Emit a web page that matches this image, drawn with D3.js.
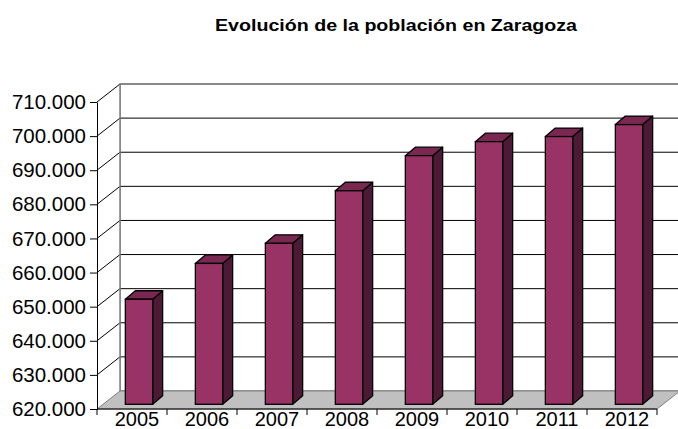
<!DOCTYPE html>
<html>
<head>
<meta charset="utf-8">
<script src="https://cdn.jsdelivr.net/npm/d3@7"></script>
<style>
  body { margin: 0; background: #fff; }
  text { font-family: "Liberation Sans", Arial, sans-serif; }
</style>
</head>
<body>
<div id="chart"></div>
<script>
// data
const years = ["2005", "2006", "2007", "2008", "2009", "2010", "2011", "2012"];
const population = [650800, 661300, 667200, 682600, 692900, 697000, 698500, 702000];
const yTicks = [620000, 630000, 640000, 650000, 660000, 670000, 680000, 690000, 700000, 710000];
const chartTitle = "Evolución de la población en Zaragoza";

const width = 678, height = 429;
// front plane of the plot
const frontLeft = 97, frontRight = 657, frontBottom = 409, frontTop = 102;
// depth of the 3d box
const depthX = 23, depthY = 18;
// bar placement inside the depth
const barFrontX = 7, barFrontY = 4.7, barDepthX = 10, barDepthY = 8.5;

const es = d3.formatLocale({decimal: ",", thousands: ".", grouping: [3], currency: ["", " €"]});
const fmt = es.format(",d");

const svg = d3.select("#chart")
  .append("svg")
    .attr("width", width)
    .attr("height", height);

// title
svg.append("text")
  .attr("x", 396)
  .attr("y", 31)
  .attr("text-anchor", "middle")
  .attr("textLength", 362)
  .attr("lengthAdjust", "spacingAndGlyphs")
  .style("font-size", "17px")
  .style("font-weight", "bold")
  .text(chartTitle);

const x = d3.scaleBand()
  .domain(years)
  .range([frontLeft, frontRight])
  .padding(0);

const y = d3.scaleLinear()
  .domain([yTicks[0], yTicks[yTicks.length - 1]])
  .range([frontBottom, frontTop]);

const pts = arr => arr.map(p => p.join(",")).join(" ");

// back wall
svg.append("polygon")
  .attr("points", pts([
    [frontLeft + depthX, y(yTicks[yTicks.length - 1]) - depthY],
    [frontRight + depthX + 40, y(yTicks[yTicks.length - 1]) - depthY],
    [frontRight + depthX + 40, frontBottom - depthY],
    [frontLeft + depthX, frontBottom - depthY]
  ]))
  .attr("fill", "#fff")
  .attr("stroke", "#808080")
  .attr("stroke-width", 1.5);

// left wall
svg.append("polygon")
  .attr("points", pts([
    [frontLeft, frontTop], [frontLeft + depthX, frontTop - depthY],
    [frontLeft + depthX, frontBottom - depthY], [frontLeft, frontBottom]
  ]))
  .attr("fill", "#fff")
  .attr("stroke", "none");

// gridlines on back wall and left wall
const grid = yTicks.slice(1);
svg.selectAll(".grid-back")
  .data(grid)
  .join("line")
    .attr("class", "grid-back")
    .attr("x1", frontLeft + depthX)
    .attr("x2", width + 10)
    .attr("y1", d => y(d) - depthY)
    .attr("y2", d => y(d) - depthY)
    .attr("stroke", d => d === yTicks[yTicks.length - 1] ? "#808080" : "#000")
    .attr("stroke-width", d => d === yTicks[yTicks.length - 1] ? 1.5 : 1);

svg.selectAll(".grid-side")
  .data(grid)
  .join("line")
    .attr("class", "grid-side")
    .attr("x1", frontLeft)
    .attr("x2", frontLeft + depthX)
    .attr("y1", d => y(d))
    .attr("y2", d => y(d) - depthY)
    .attr("stroke", "#000")
    .attr("stroke-width", 1);

// back wall left edge
svg.append("line")
  .attr("x1", frontLeft + depthX).attr("x2", frontLeft + depthX)
  .attr("y1", frontTop - depthY).attr("y2", frontBottom - depthY)
  .attr("stroke", "#808080")
  .attr("stroke-width", 1.5);

// floor
svg.append("polygon")
  .attr("points", pts([
    [frontLeft, frontBottom], [frontRight, frontBottom],
    [frontRight + depthX, frontBottom - depthY], [frontLeft + depthX, frontBottom - depthY]
  ]))
  .attr("fill", "#c0c0c0")
  .attr("stroke", "#808080")
  .attr("stroke-width", 1);

// y axis
const yAxis = svg.append("g")
  .attr("transform", `translate(${frontLeft},0)`)
  .call(d3.axisLeft(y).tickValues(yTicks).tickFormat(fmt).tickSize(7).tickSizeOuter(0).tickPadding(4));
yAxis.select(".domain").attr("stroke", "#000");
yAxis.selectAll("text")
  .style("font-family", "'Liberation Sans', Arial, sans-serif")
  .style("font-size", "20.5px")
  .attr("fill", "#000");

// x axis line + ticks at category boundaries
svg.append("line")
  .attr("x1", frontLeft).attr("x2", frontRight)
  .attr("y1", frontBottom).attr("y2", frontBottom)
  .attr("stroke", "#000");

svg.selectAll(".xtick")
  .data(years.concat(["end"]))
  .join("line")
    .attr("class", "xtick")
    .attr("x1", d => d === "end" ? frontRight : x(d))
    .attr("x2", d => d === "end" ? frontRight : x(d))
    .attr("y1", frontBottom)
    .attr("y2", frontBottom + 6)
    .attr("stroke", "#000");

svg.selectAll(".xlabel")
  .data(years)
  .join("text")
    .attr("class", "xlabel")
    .attr("x", d => x(d) + x.bandwidth() / 2 + 5)
    .attr("y", 426)
    .attr("text-anchor", "middle")
    .style("font-size", "20px")
    .text(d => d);

// bars
const barW = x.bandwidth() * 0.39;
const data = years.map((yr, i) => ({year: yr, value: population[i]}));

const bars = svg.selectAll(".bar")
  .data(data)
  .join("g")
    .attr("class", "bar");

bars.each(function(d) {
  const g = d3.select(this);
  const x0 = x(d.year) + (x.bandwidth() - barW) / 2 + barFrontX;
  const x1 = x0 + barW;
  const yTop = y(d.value) - barFrontY;
  const yBot = y(yTicks[0]) - barFrontY;

  // side
  g.append("polygon")
    .attr("points", pts([[x1, yTop], [x1 + barDepthX, yTop - barDepthY],
      [x1 + barDepthX, yBot - barDepthY], [x1, yBot]]))
    .attr("fill", "#4d1a36")
    .attr("stroke", "#000")
    .attr("stroke-width", 1.3)
    .attr("stroke-linejoin", "round");
  // top
  g.append("polygon")
    .attr("points", pts([[x0, yTop], [x0 + barDepthX, yTop - barDepthY],
      [x1 + barDepthX, yTop - barDepthY], [x1, yTop]]))
    .attr("fill", "#7a2852")
    .attr("stroke", "#000")
    .attr("stroke-width", 1.3)
    .attr("stroke-linejoin", "round");
  // front
  g.append("rect")
    .attr("x", x0)
    .attr("y", yTop)
    .attr("width", barW)
    .attr("height", yBot - yTop)
    .attr("fill", "#993366")
    .attr("stroke", "#000")
    .attr("stroke-width", 1.3);
});
</script>
</body>
</html>
